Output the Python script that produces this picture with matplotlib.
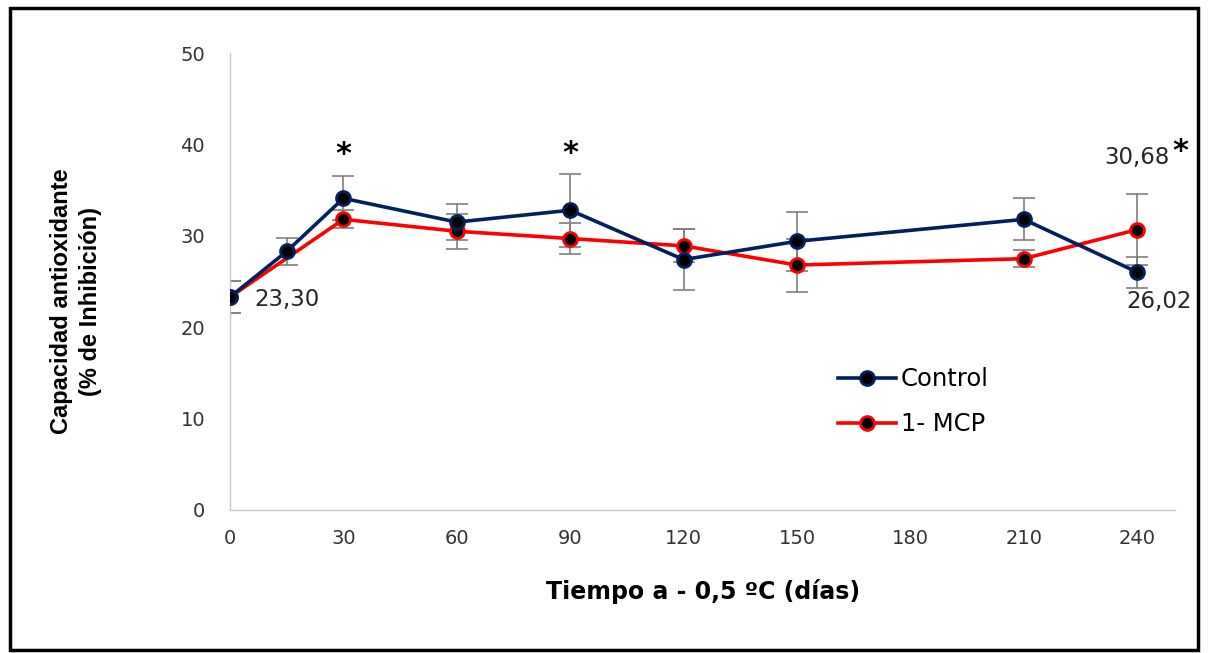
import numpy as np
import matplotlib.pyplot as plt
from matplotlib.patches import Rectangle

# days of storage at -0.5 C
dias_control = [0, 15, 30, 60, 90, 120, 150, 210, 240]
control = [23.30, 28.3, 34.1, 31.5, 32.8, 27.4, 29.4, 31.8, 26.02]
control_err = [1.8, 1.5, 2.4, 2.0, 4.0, 3.3, 3.2, 2.3, 1.7]

dias_mcp = [0, 30, 60, 90, 120, 150, 210, 240]
mcp = [23.30, 31.8, 30.5, 29.7, 28.9, 26.8, 27.5, 30.68]
mcp_err = [1.8, 1.0, 1.9, 1.7, 1.8, 2.9, 0.95, 3.9]

xticks = [0, 30, 60, 90, 120, 150, 180, 210, 240]
yticks = [0, 10, 20, 30, 40, 50]

fig = plt.figure(figsize=(12.08, 6.53), dpi=100)
ax = fig.add_axes([0.1904, 0.2190, 0.7823, 0.6998])

err_style = dict(fmt='none', ecolor='#7f7f7f', elinewidth=1.2, capsize=8, capthick=1.2)
ax.errorbar(dias_control, control, yerr=control_err, zorder=2, **err_style)
ax.errorbar(dias_mcp, mcp, yerr=mcp_err, zorder=2, **err_style)

ax.plot(dias_mcp, mcp, color='#ff0000', lw=2.6, marker='o', ms=10,
        mfc='black', mec='#ff0000', mew=2, label='1- MCP', zorder=3)
ax.plot(dias_control, control, color='#002060', lw=2.6, marker='o', ms=10,
        mfc='black', mec='#002060', mew=2, label='Control', zorder=4)

ax.set_xlim(0, 250)
ax.set_ylim(0, 50)
ax.set_xticks(xticks)
ax.set_yticks(yticks)
ax.tick_params(length=0, labelsize=14, labelcolor='#333333')
ax.tick_params(axis='y', pad=18)
ax.tick_params(axis='x', pad=14)

for s in ['top', 'right']:
    ax.spines[s].set_visible(False)
for s in ['left', 'bottom']:
    ax.spines[s].set_color('#c8c8c8')
    ax.spines[s].set_linewidth(1)

fig.text(703 / 1208, 1 - 592 / 653, 'Tiempo a - 0,5 ºC (días)', fontsize=17,
         fontweight='bold', ha='center', va='center')
fig.text(76 / 1208, 1 - 301 / 653, 'Capacidad antioxidante\n(% de Inhibición)',
         fontsize=17, fontweight='bold', family='Liberation Sans', rotation=90,
         ha='center', va='center', multialignment='center', linespacing=1.3)

# value labels and significance marks
lab_style = dict(fontsize=16.5, color='#262626', va='center')
ax.text(6.5, control[0] - 0.3, '23,30', ha='left', **lab_style)
ax.text(dias_mcp[-1] + 8.5, mcp[-1] + 7.9, '30,68', ha='right', **lab_style)
ax.text(dias_control[-1] + 14.5, control[-1] - 3.2, '26,02', ha='right', **lab_style)
for x, y in [(30, 38.9), (90, 39.0), (251.5, 39.2)]:
    ax.text(x, y, '*', fontsize=22, fontweight='bold', ha='center', va='center')

leg = ax.legend(loc='upper left', bbox_to_anchor=(0.62, 0.36), frameon=False,
                prop={'size': 17.5}, handlelength=2.4,
                handletextpad=0.2, labelspacing=0.85, reverse=True)

fig.patches.append(Rectangle((0.008, 0.005), 0.984, 0.982, transform=fig.transFigure,
                             fill=False, edgecolor='black', linewidth=2.5))

fig.savefig('out.png', dpi=100)
